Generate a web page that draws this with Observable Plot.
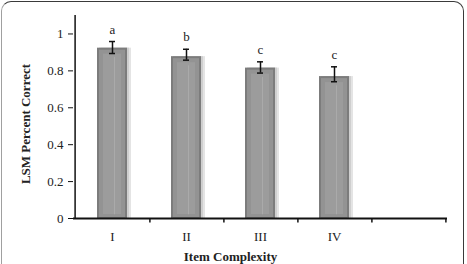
<!DOCTYPE html>
<html>
<head>
<meta charset="utf-8">
<script src="https://cdn.jsdelivr.net/npm/d3@7"></script>
<script src="https://cdn.jsdelivr.net/npm/@observablehq/plot@0.6"></script>
<style>
  html, body { margin: 0; padding: 0; background: #fff; overflow: hidden; }
  #wrap { position: relative; width: 467px; height: 264px; }
  #border { position: absolute; left: 1px; top: 1px; width: 461px; height: 275px;
    border: 1.5px solid #3a3a3a; border-left-color: #a0a0a0; border-radius: 10px; pointer-events: none; }
  svg text { font-family: 'Liberation Serif', 'Times New Roman', serif; font-variant-numeric: normal; }
</style>
</head>
<body>
<div id="wrap"><div id="border"></div></div>
<script>
const categories = ["I", "II", "III", "IV"];
const slots = ["I", "II", "III", "IV", "V"];
const means = [0.923, 0.877, 0.815, 0.769];
const upper = [0.959, 0.917, 0.849, 0.822];
const lower = [0.894, 0.858, 0.788, 0.741];
const letters = ["a", "b", "c", "c"];
const yTicks = [0, 0.2, 0.4, 0.6, 0.8, 1];

const data = categories.map((c, i) => ({cat: c, v: means[i], hi: upper[i], lo: lower[i], letter: letters[i]}));

const W = 467, H = 264, mL = 73, mR = 20, mT = 15, mB = 46;
const step = (W - mL - mR) / slots.length;
const font = "'Liberation Serif', 'Times New Roman', serif";

const chart = Plot.plot({
  width: W, height: H,
  marginLeft: mL, marginRight: mR, marginTop: mT, marginBottom: mB,
  style: {fontFamily: font, fontSize: "13px", color: "#222", background: "transparent", overflow: "visible"},
  x: {domain: slots, paddingInner: 0.6, paddingOuter: 0.3, label: null},
  y: {domain: [0, 1.1], label: null},
  marks: [
    // soft shadow
    Plot.barY(data, {x: "cat", y: "v", dx: 4, fill: "#e4e4e4"}),
    Plot.barY(data, {x: "cat", y: "v", dx: 2, fill: "#cfcfcf"}),
    Plot.barY(data, {x: "cat", y: "v", fill: "#7c7c7c"}),
    Plot.barY(data, {x: "cat", y: "v", fill: "#939393", insetLeft: 2, insetRight: 2, insetTop: 2, insetBottom: 1}),
    Plot.barY(data, {x: "cat", y: "v", fill: "#9c9c9c", insetLeft: 6, insetRight: 6, insetTop: 6, insetBottom: 4}),
    Plot.ruleX(data, {x: "cat", y1: 0.02, y2: d => d.v - 0.05, dx: 2, stroke: "#aaaaaa", strokeWidth: 1}),
    // error bars
    Plot.ruleX(data, {x: "cat", y1: "lo", y2: "hi", stroke: "#111", strokeWidth: 1.5}),
    Plot.tickY(data, {x: "cat", y: "hi", stroke: "#111", strokeWidth: 1.5, insetLeft: 12, insetRight: 12}),
    Plot.tickY(data, {x: "cat", y: "lo", stroke: "#111", strokeWidth: 1.5, insetLeft: 12, insetRight: 12}),
    // letters
    Plot.text(data, {x: "cat", y: "hi", text: "letter", dy: -12, fontSize: 13, fill: "#222"}),
    // axes lines
    Plot.ruleY([0], {stroke: "#111", strokeWidth: 2}),
    Plot.ruleX(["I"], {x: d => d, dx: -step / 2, y1: 0, y2: 1.1, stroke: "#111", strokeWidth: 1.5}),
    // x ticks at slot boundaries
    Plot.ruleX(slots, {x: d => d, dx: step / 2, y1: 0, y2: -0.024, stroke: "#111", strokeWidth: 1.5}),
    Plot.axisY({ticks: yTicks, tickSize: 5, tickPadding: 5, tickFormat: d => String(d), fontSize: 13, fontFamily: font, stroke: "#111"}),
    Plot.axisX({tickSize: 0, tickPadding: 13, tickFormat: d => d === "V" ? "" : d, fontSize: 13, fontFamily: font}),
    // axis titles
    Plot.text(["LSM Percent Correct"], {frameAnchor: "left", text: d => d, rotate: -90, textAnchor: "middle", lineAnchor: "middle", dx: -48, dy: 7, fontWeight: "bold", fontSize: 13, fill: "#222"}),
    Plot.text(["Item Complexity"], {frameAnchor: "bottom", text: d => d, textAnchor: "middle", lineAnchor: "middle", dx: -30, dy: 38, fontWeight: "bold", fontSize: 13, fill: "#222"})
  ]
});
document.getElementById("wrap").prepend(chart);
</script>
</body>
</html>
